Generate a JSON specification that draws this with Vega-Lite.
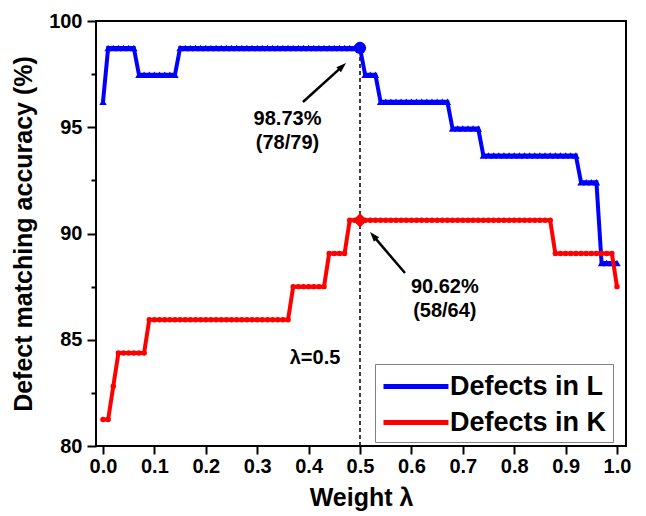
{
  "$schema": "https://vega.github.io/schema/vega-lite/v6.json",
  "width": 530,
  "height": 425,
  "autosize": {"type": "none"},
  "padding": {"left": 96, "top": 21, "right": 20, "bottom": 70},
  "background": "white",
  "config": {
    "view": {"stroke": "black", "strokeWidth": 2},
    "font": "Liberation Sans",
    "axis": {
      "domain": false, "grid": false, "tickColor": "black", "tickWidth": 2,
      "labelColor": "black", "titleColor": "black",
      "labelFont": "Liberation Sans", "titleFont": "Liberation Sans",
      "labelFontWeight": "bold", "titleFontWeight": "bold",
      "labelFontSize": 20, "titleFontSize": 25
    },
    "text": {"font": "Liberation Sans"}
  },
  "datasets": {
    "L": [{"w":0,"v":96.2},{"w":0.01,"v":98.73},{"w":0.02,"v":98.73},{"w":0.03,"v":98.73},{"w":0.04,"v":98.73},{"w":0.05,"v":98.73},{"w":0.06,"v":98.73},{"w":0.07,"v":97.47},{"w":0.08,"v":97.47},{"w":0.09,"v":97.47},{"w":0.1,"v":97.47},{"w":0.11,"v":97.47},{"w":0.12,"v":97.47},{"w":0.13,"v":97.47},{"w":0.14,"v":97.47},{"w":0.15,"v":98.73},{"w":0.16,"v":98.73},{"w":0.17,"v":98.73},{"w":0.18,"v":98.73},{"w":0.19,"v":98.73},{"w":0.2,"v":98.73},{"w":0.21,"v":98.73},{"w":0.22,"v":98.73},{"w":0.23,"v":98.73},{"w":0.24,"v":98.73},{"w":0.25,"v":98.73},{"w":0.26,"v":98.73},{"w":0.27,"v":98.73},{"w":0.28,"v":98.73},{"w":0.29,"v":98.73},{"w":0.3,"v":98.73},{"w":0.31,"v":98.73},{"w":0.32,"v":98.73},{"w":0.33,"v":98.73},{"w":0.34,"v":98.73},{"w":0.35,"v":98.73},{"w":0.36,"v":98.73},{"w":0.37,"v":98.73},{"w":0.38,"v":98.73},{"w":0.39,"v":98.73},{"w":0.4,"v":98.73},{"w":0.41,"v":98.73},{"w":0.42,"v":98.73},{"w":0.43,"v":98.73},{"w":0.44,"v":98.73},{"w":0.45,"v":98.73},{"w":0.46,"v":98.73},{"w":0.47,"v":98.73},{"w":0.48,"v":98.73},{"w":0.49,"v":98.73},{"w":0.5,"v":98.73},{"w":0.51,"v":97.47},{"w":0.52,"v":97.47},{"w":0.53,"v":97.47},{"w":0.54,"v":96.2},{"w":0.55,"v":96.2},{"w":0.56,"v":96.2},{"w":0.57,"v":96.2},{"w":0.58,"v":96.2},{"w":0.59,"v":96.2},{"w":0.6,"v":96.2},{"w":0.61,"v":96.2},{"w":0.62,"v":96.2},{"w":0.63,"v":96.2},{"w":0.64,"v":96.2},{"w":0.65,"v":96.2},{"w":0.66,"v":96.2},{"w":0.67,"v":96.2},{"w":0.68,"v":94.94},{"w":0.69,"v":94.94},{"w":0.7,"v":94.94},{"w":0.71,"v":94.94},{"w":0.72,"v":94.94},{"w":0.73,"v":94.94},{"w":0.74,"v":93.67},{"w":0.75,"v":93.67},{"w":0.76,"v":93.67},{"w":0.77,"v":93.67},{"w":0.78,"v":93.67},{"w":0.79,"v":93.67},{"w":0.8,"v":93.67},{"w":0.81,"v":93.67},{"w":0.82,"v":93.67},{"w":0.83,"v":93.67},{"w":0.84,"v":93.67},{"w":0.85,"v":93.67},{"w":0.86,"v":93.67},{"w":0.87,"v":93.67},{"w":0.88,"v":93.67},{"w":0.89,"v":93.67},{"w":0.9,"v":93.67},{"w":0.91,"v":93.67},{"w":0.92,"v":93.67},{"w":0.93,"v":92.41},{"w":0.94,"v":92.41},{"w":0.95,"v":92.41},{"w":0.96,"v":92.41},{"w":0.97,"v":88.61},{"w":0.98,"v":88.61},{"w":0.99,"v":88.61},{"w":1,"v":88.61}],
    "K": [{"w":0,"v":81.25},{"w":0.01,"v":81.25},{"w":0.02,"v":82.81},{"w":0.03,"v":84.38},{"w":0.04,"v":84.38},{"w":0.05,"v":84.38},{"w":0.06,"v":84.38},{"w":0.07,"v":84.38},{"w":0.08,"v":84.38},{"w":0.09,"v":85.94},{"w":0.1,"v":85.94},{"w":0.11,"v":85.94},{"w":0.12,"v":85.94},{"w":0.13,"v":85.94},{"w":0.14,"v":85.94},{"w":0.15,"v":85.94},{"w":0.16,"v":85.94},{"w":0.17,"v":85.94},{"w":0.18,"v":85.94},{"w":0.19,"v":85.94},{"w":0.2,"v":85.94},{"w":0.21,"v":85.94},{"w":0.22,"v":85.94},{"w":0.23,"v":85.94},{"w":0.24,"v":85.94},{"w":0.25,"v":85.94},{"w":0.26,"v":85.94},{"w":0.27,"v":85.94},{"w":0.28,"v":85.94},{"w":0.29,"v":85.94},{"w":0.3,"v":85.94},{"w":0.31,"v":85.94},{"w":0.32,"v":85.94},{"w":0.33,"v":85.94},{"w":0.34,"v":85.94},{"w":0.35,"v":85.94},{"w":0.36,"v":85.94},{"w":0.37,"v":87.5},{"w":0.38,"v":87.5},{"w":0.39,"v":87.5},{"w":0.4,"v":87.5},{"w":0.41,"v":87.5},{"w":0.42,"v":87.5},{"w":0.43,"v":87.5},{"w":0.44,"v":89.06},{"w":0.45,"v":89.06},{"w":0.46,"v":89.06},{"w":0.47,"v":89.06},{"w":0.48,"v":90.62},{"w":0.49,"v":90.62},{"w":0.5,"v":90.62},{"w":0.51,"v":90.62},{"w":0.52,"v":90.62},{"w":0.53,"v":90.62},{"w":0.54,"v":90.62},{"w":0.55,"v":90.62},{"w":0.56,"v":90.62},{"w":0.57,"v":90.62},{"w":0.58,"v":90.62},{"w":0.59,"v":90.62},{"w":0.6,"v":90.62},{"w":0.61,"v":90.62},{"w":0.62,"v":90.62},{"w":0.63,"v":90.62},{"w":0.64,"v":90.62},{"w":0.65,"v":90.62},{"w":0.66,"v":90.62},{"w":0.67,"v":90.62},{"w":0.68,"v":90.62},{"w":0.69,"v":90.62},{"w":0.7,"v":90.62},{"w":0.71,"v":90.62},{"w":0.72,"v":90.62},{"w":0.73,"v":90.62},{"w":0.74,"v":90.62},{"w":0.75,"v":90.62},{"w":0.76,"v":90.62},{"w":0.77,"v":90.62},{"w":0.78,"v":90.62},{"w":0.79,"v":90.62},{"w":0.8,"v":90.62},{"w":0.81,"v":90.62},{"w":0.82,"v":90.62},{"w":0.83,"v":90.62},{"w":0.84,"v":90.62},{"w":0.85,"v":90.62},{"w":0.86,"v":90.62},{"w":0.87,"v":90.62},{"w":0.88,"v":89.06},{"w":0.89,"v":89.06},{"w":0.9,"v":89.06},{"w":0.91,"v":89.06},{"w":0.92,"v":89.06},{"w":0.93,"v":89.06},{"w":0.94,"v":89.06},{"w":0.95,"v":89.06},{"w":0.96,"v":89.06},{"w":0.97,"v":89.06},{"w":0.98,"v":89.06},{"w":0.99,"v":89.06},{"w":1,"v":87.5}],
    "ann": [{"w":0.359,"v":95.39,"t":"98.73%"},{"w":0.359,"v":94.26,"t":"(78/79)"},{"w":0.665,"v":87.48,"t":"90.62%"},{"w":0.665,"v":86.35,"t":"(58/64)"},{"w":0.4125,"v":84.14,"t":"λ=0.5"}]
  },
  "layer": [
    {
      "data": {"values": [{"w": 0.5, "v": 80, "v2": 98.73}]},
      "mark": {"type": "rule", "color": "black", "strokeWidth": 1.5, "strokeDash": [4, 3]},
      "encoding": {
        "x": {"field": "w", "type": "quantitative",
              "scale": {"domain": [-0.01362, 1.0175], "nice": false, "zero": false},
              "axis": {"values": [0,0.1,0.2,0.3,0.4,0.5,0.6,0.7,0.8,0.9,1.0], "format": ".1f", "title": "Weight λ", "tickSize": 8, "labelPadding": 2, "titlePadding": 9}},
        "y": {"field": "v", "type": "quantitative",
              "scale": {"domain": [80, 100], "nice": false, "zero": false},
              "axis": {"orient": "left", "values": [80,85,90,95,100], "title": "Defect matching accuracy (%)", "tickSize": 9, "labelPadding": 5, "titlePadding": 12}},
        "y2": {"field": "v2"}
      }
    },
    {
      "data": {"name": "L"},
      "mark": {"type": "line", "strokeWidth": 4},
      "encoding": {
        "x": {"field": "w", "type": "quantitative"},
        "y": {"field": "v", "type": "quantitative",
              "axis": {"orient": "left", "values": [82.5, 87.5, 92.5, 97.5], "labels": false, "title": null, "tickSize": 5}},
        "color": {"datum": "Defects in L", "type": "nominal",
                  "scale": {"domain": ["Defects in L", "Defects in K"], "range": ["#0000FF", "#FF0000"]},
                  "legend": {"orient": "none", "legendX": 279, "legendY": 343, "title": null,
                             "symbolType": "M-1,0L3.64,0", "symbolSize": 784, "symbolStrokeWidth": 5,
                             "symbolFillColor": "transparent",
                             "labelFontSize": 27, "labelFontWeight": "bold", "labelFont": "Liberation Sans", "labelColor": "black",
                             "labelOffset": 36, "padding": 6, "rowPadding": 6, "labelLimit": 400,
                             "strokeColor": "#808080", "fillColor": "white"}}
      }
    },
    {
      "data": {"name": "L"},
      "mark": {"type": "point", "shape": "triangle-up", "filled": true, "size": 55, "color": "#0000FF", "strokeWidth": 0, "opacity": 1},
      "encoding": {
        "x": {"field": "w", "type": "quantitative"},
        "y": {"field": "v", "type": "quantitative", "axis": null}
      }
    },
    {
      "data": {"name": "K"},
      "mark": {"type": "line", "strokeWidth": 4},
      "encoding": {
        "x": {"field": "w", "type": "quantitative"},
        "y": {"field": "v", "type": "quantitative", "axis": null},
        "color": {"datum": "Defects in K", "type": "nominal"}
      }
    },
    {
      "data": {"name": "K"},
      "mark": {"type": "point", "shape": "circle", "filled": true, "size": 30, "color": "#FF0000", "strokeWidth": 0, "opacity": 1},
      "encoding": {
        "x": {"field": "w", "type": "quantitative"},
        "y": {"field": "v", "type": "quantitative", "axis": null}
      }
    },
    {
      "data": {"name": "L"},
      "transform": [{"filter": "datum.w == 0.5"}],
      "mark": {"type": "point", "shape": "circle", "filled": true, "size": 150, "color": "#0000FF", "strokeWidth": 0, "opacity": 1},
      "encoding": {
        "x": {"field": "w", "type": "quantitative"},
        "y": {"field": "v", "type": "quantitative", "axis": null}
      }
    },
    {
      "data": {"name": "K"},
      "transform": [{"filter": "datum.w == 0.5"}],
      "mark": {"type": "point", "shape": "diamond", "filled": true, "size": 200, "color": "#FF0000", "strokeWidth": 0, "opacity": 1},
      "encoding": {
        "x": {"field": "w", "type": "quantitative"},
        "y": {"field": "v", "type": "quantitative", "axis": null}
      }
    },
    {
      "data": {"values": [{"w": 0.389, "v": 96.19, "w2": 0.4613, "v2": 97.77}, {"w": 0.5875, "v": 88.14, "w2": 0.5296, "v2": 89.78}]},
      "mark": {"type": "rule", "color": "black", "strokeWidth": 2.5},
      "encoding": {
        "x": {"field": "w", "type": "quantitative"},
        "y": {"field": "v", "type": "quantitative", "axis": null},
        "x2": {"field": "w2"},
        "y2": {"field": "v2"}
      }
    },
    {
      "data": {"values": [{"w": 0.4638, "v": 97.826}]},
      "mark": {"type": "point", "shape": "M0,-1L0.55,0.6L-0.55,0.6Z", "filled": true, "size": 156, "color": "black", "strokeWidth": 0, "opacity": 1, "angle": 47.8},
      "encoding": {
        "x": {"field": "w", "type": "quantitative"},
        "y": {"field": "v", "type": "quantitative", "axis": null}
      }
    },
    {
      "data": {"values": [{"w": 0.5274, "v": 89.847}]},
      "mark": {"type": "point", "shape": "M0,-1L0.55,0.6L-0.55,0.6Z", "filled": true, "size": 156, "color": "black", "strokeWidth": 0, "opacity": 1, "angle": 319.5},
      "encoding": {
        "x": {"field": "w", "type": "quantitative"},
        "y": {"field": "v", "type": "quantitative", "axis": null}
      }
    },
    {
      "data": {"name": "ann"},
      "mark": {"type": "text", "fontSize": 20, "fontWeight": "bold", "font": "Liberation Sans", "color": "black", "align": "center", "baseline": "middle"},
      "encoding": {
        "x": {"field": "w", "type": "quantitative"},
        "y": {"field": "v", "type": "quantitative", "axis": null},
        "text": {"field": "t"}
      }
    }
  ],
  "resolve": {"axis": {"y": "independent"}}
}
